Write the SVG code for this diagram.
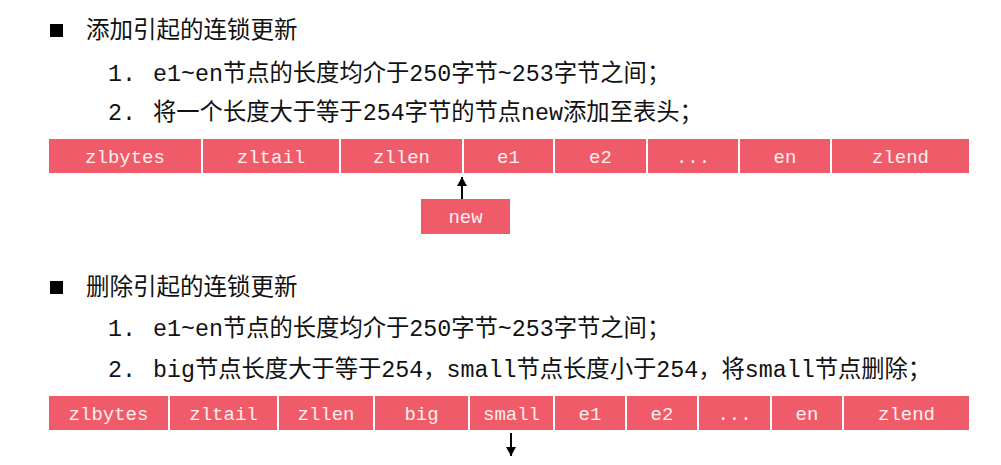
<svg xmlns="http://www.w3.org/2000/svg" width="1001" height="465" viewBox="0 0 1001 465">
<style>
.t{font-family:"Liberation Mono","Noto Sans CJK SC",monospace;font-size:23.3px;fill:#111}
.h{font-family:"Noto Sans CJK SC","Noto Sans",sans-serif;font-size:23.5px;fill:#111}
.b{fill:#F05B69}
.bl{font-family:"Liberation Mono",monospace;font-size:19px;fill:#FFEFF0;text-anchor:middle}
.ar{stroke:#000;stroke-width:2;fill:none}
</style>
<defs>
<marker id="ah" markerWidth="11" markerHeight="11" refX="9" refY="5" orient="auto" markerUnits="userSpaceOnUse">
<path d="M0,0 L9,5 L0,10 Z" fill="#000"/>
</marker>
</defs>
<rect width="1001" height="465" fill="#fff"/>

<g id="section1">
<rect x="50" y="24" width="13" height="13" fill="#000"/>
<text class="h" x="86" y="37.5">添加引起的连锁更新</text>
<text class="t" x="108" y="81">1.<tspan x="153">e1~en节点的长度均介于250字节~253字节之间；</tspan></text>
<text class="t" x="108" y="120">2.<tspan x="153">将一个长度大于等于254字节的节点new添加至表头；</tspan></text>
</g>

<g id="row1">
<g id="r1-zlbytes"><rect class="b" x="49" y="139" width="152" height="34"/><text class="bl" x="125" y="162.5">zlbytes</text></g>
<g id="r1-zltail"><rect class="b" x="203" y="139" width="136" height="34"/><text class="bl" x="271" y="162.5">zltail</text></g>
<g id="r1-zllen"><rect class="b" x="341" y="139" width="121" height="34"/><text class="bl" x="401.5" y="162.5">zllen</text></g>
<g id="r1-e1"><rect class="b" x="464" y="139" width="89" height="34"/><text class="bl" x="508.5" y="162.5">e1</text></g>
<g id="r1-e2"><rect class="b" x="555" y="139" width="91" height="34"/><text class="bl" x="600.5" y="162.5">e2</text></g>
<g id="r1-dots"><rect class="b" x="648" y="139" width="90" height="34"/><text class="bl" x="693" y="162.5">...</text></g>
<g id="r1-en"><rect class="b" x="740" y="139" width="90" height="34"/><text class="bl" x="785" y="162.5">en</text></g>
<g id="r1-zlend"><rect class="b" x="832" y="139" width="137" height="34"/><text class="bl" x="900.5" y="162.5">zlend</text></g>
</g>

<g id="new">
<rect class="b" x="421" y="199" width="89" height="35"/><text class="bl" x="465.5" y="223">new</text>
</g>

<g id="section2">
<rect x="50" y="281" width="13" height="13" fill="#000"/>
<text class="h" x="86" y="295">删除引起的连锁更新</text>
<text class="t" x="108" y="336">1.<tspan x="153">e1~en节点的长度均介于250字节~253字节之间；</tspan></text>
<text class="t" x="108" y="377">2.<tspan x="153">big节点长度大于等于254，small节点长度小于254，将small节点删除；</tspan></text>
</g>

<g id="row2">
<g id="r2-zlbytes"><rect class="b" x="49" y="396" width="119" height="34"/><text class="bl" x="108.5" y="419.5">zlbytes</text></g>
<g id="r2-zltail"><rect class="b" x="170" y="396" width="107" height="34"/><text class="bl" x="223.5" y="419.5">zltail</text></g>
<g id="r2-zllen"><rect class="b" x="279" y="396" width="94" height="34"/><text class="bl" x="326" y="419.5">zllen</text></g>
<g id="r2-big"><rect class="b" x="375" y="396" width="93" height="34"/><text class="bl" x="421.5" y="419.5">big</text></g>
<g id="r2-small"><rect class="b" x="470" y="396" width="83" height="34"/><text class="bl" x="511.5" y="419.5">small</text></g>
<g id="r2-e1"><rect class="b" x="555" y="396" width="70" height="34"/><text class="bl" x="590" y="419.5">e1</text></g>
<g id="r2-e2"><rect class="b" x="627" y="396" width="70" height="34"/><text class="bl" x="662" y="419.5">e2</text></g>
<g id="r2-dots"><rect class="b" x="699" y="396" width="71" height="34"/><text class="bl" x="734.5" y="419.5">...</text></g>
<g id="r2-en"><rect class="b" x="772" y="396" width="70" height="34"/><text class="bl" x="807" y="419.5">en</text></g>
<g id="r2-zlend"><rect class="b" x="844" y="396" width="125" height="34"/><text class="bl" x="906.5" y="419.5">zlend</text></g>
</g>

<g id="connectors">
<line class="ar" x1="462" y1="199" x2="462" y2="177" marker-end="url(#ah)"/>
<line class="ar" x1="511" y1="433" x2="511" y2="456" marker-end="url(#ah)"/>
</g>
</svg>
